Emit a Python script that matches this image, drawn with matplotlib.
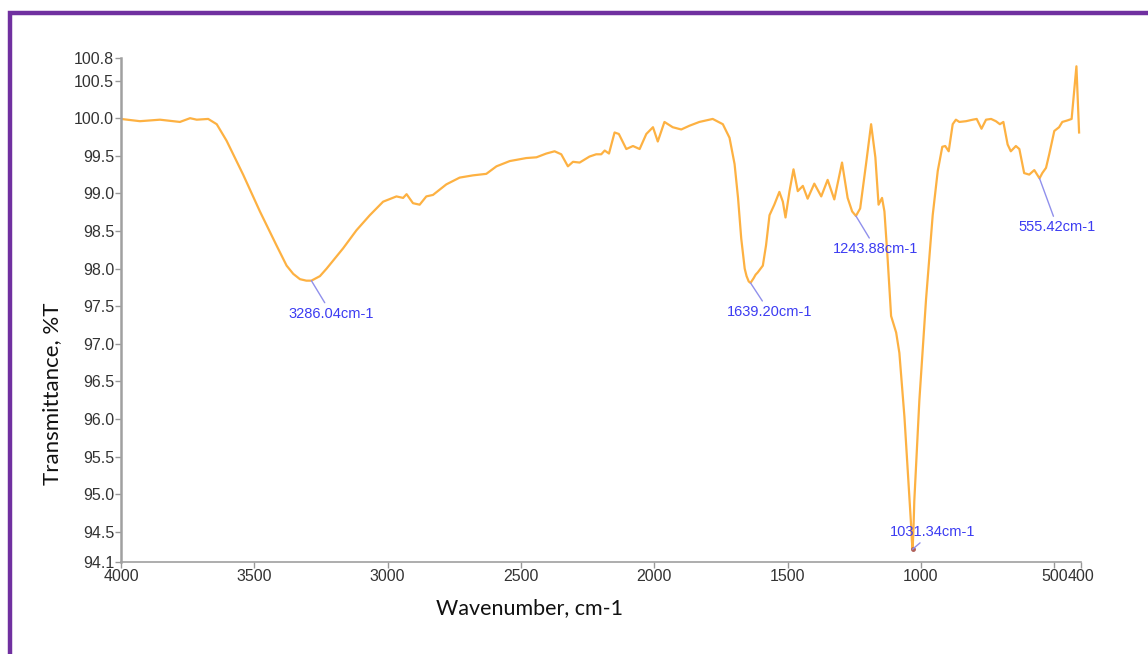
import matplotlib
matplotlib.use("Agg")
import matplotlib.pyplot as plt
from matplotlib.lines import Line2D

# FTIR spectrum (wavenumber in cm-1, transmittance in %T)
wavenumber = [
    4000, 3929, 3854, 3779, 3741, 3716, 3673, 3641, 3604, 3542,
    3479, 3417, 3379, 3354, 3329, 3305, 3286.04, 3254, 3229, 3167,
    3117, 3067, 3017, 2967, 2942, 2929, 2905, 2880, 2855, 2830,
    2780, 2730, 2680, 2630, 2592, 2542, 2480, 2442, 2405, 2374,
    2349, 2324, 2305, 2280, 2243, 2218, 2199, 2186, 2170, 2149,
    2133, 2105, 2080, 2055, 2030, 2005, 1987, 1962, 1931, 1899,
    1868, 1831, 1781, 1743, 1718, 1699, 1686, 1674, 1661, 1654,
    1646, 1639.20, 1628, 1620, 1612, 1593, 1581, 1568, 1550, 1531,
    1518, 1508, 1493, 1478, 1462, 1443, 1425, 1400, 1374, 1350,
    1325, 1296, 1275, 1258, 1243.88, 1228, 1206, 1187, 1171, 1159,
    1146, 1137, 1125, 1112, 1093, 1081, 1062, 1050, 1037, 1034,
    1031.34, 1028, 1025, 1006, 981, 956, 937, 920, 909, 896,
    881, 869, 856, 831, 806, 791, 773, 756, 737, 719,
    704, 691, 675, 663, 644, 631, 613, 594, 575, 555.42,
    545, 531, 519, 500, 482, 470, 451, 435, 417, 407,
]
transmittance = [
    99.99, 99.96, 99.98, 99.95, 100.00, 99.98, 99.99, 99.92, 99.70, 99.25,
    98.76, 98.31, 98.04, 97.93, 97.86, 97.84, 97.84, 97.90, 98.00, 98.27,
    98.51, 98.71, 98.89, 98.96, 98.94, 98.99, 98.87, 98.85, 98.96, 98.98,
    99.12, 99.21, 99.24, 99.26, 99.36, 99.43, 99.47, 99.48, 99.53, 99.56,
    99.52, 99.36, 99.42, 99.41, 99.49, 99.52, 99.52, 99.57, 99.53, 99.81,
    99.79, 99.59, 99.63, 99.59, 99.79, 99.88, 99.69, 99.95, 99.88, 99.85,
    99.90, 99.95, 99.99, 99.92, 99.74, 99.39, 98.94, 98.40, 98.00, 97.90,
    97.83, 97.81, 97.87, 97.92, 97.95, 98.04, 98.31, 98.71, 98.85, 99.02,
    98.89, 98.68, 99.03, 99.32, 99.03, 99.10, 98.93, 99.13, 98.96, 99.18,
    98.92, 99.41, 98.94, 98.76, 98.70, 98.80, 99.39, 99.92, 99.48, 98.85,
    98.94, 98.76, 98.13, 97.37, 97.15, 96.88, 96.03, 95.35, 94.59, 94.38,
    94.27, 94.55, 94.91, 96.25, 97.59, 98.71, 99.30, 99.62, 99.63, 99.56,
    99.92, 99.98, 99.95, 99.96, 99.98, 99.99, 99.86, 99.98, 99.99, 99.96,
    99.92, 99.95, 99.65, 99.56, 99.63, 99.59, 99.27, 99.25, 99.31, 99.20,
    99.27, 99.34, 99.52, 99.83, 99.88, 99.95, 99.97, 99.99, 100.69, 99.81,
]

# labelled band positions and label offsets (pixels)
peaks = [3286.04, 1639.20, 1243.88, 1031.34, 555.42]
peak_offsets = [(20, -33), (19, -29), (20, -33), (20, 17), (18, -49)]

x_ticks = [4000, 3500, 3000, 2500, 2000, 1500, 1000, 500, 400]
y_ticks = [94.1, 94.5, 95.0, 95.5, 96.0, 96.5, 97.0, 97.5, 98.0,
           98.5, 99.0, 99.5, 100.0, 100.5, 100.8]

fig = plt.figure(figsize=(11.48, 6.54), dpi=100)
ax = fig.add_axes([0.1054, 0.1407, 0.8362, 0.7706])

ax.plot(wavenumber, transmittance, color="#FDB142", linewidth=1.6,
        solid_joinstyle="round")

for wn, off in zip(peaks, peak_offsets):
    t = transmittance[wavenumber.index(wn)]
    ax.annotate(f"{wn:.2f}cm-1", xy=(wn, t), xytext=off,
                textcoords="offset pixels", ha="center", va="center",
                fontsize=10.5, color="#3c3cf2", family="Liberation Sans",
                arrowprops=dict(arrowstyle="-", color="#9090ec", lw=1,
                                shrinkA=1, shrinkB=0))

# small marker at the strongest band
i_min = transmittance.index(min(transmittance))
ax.plot(wavenumber[i_min], transmittance[i_min], "o", ms=2.5, color="#b0605a")

ax.set_xlim(4000, 400)
ax.set_ylim(94.1, 100.8)
ax.set_xticks(x_ticks)
ax.set_xticklabels([str(v) for v in x_ticks])
ax.set_yticks(y_ticks)
ax.set_yticklabels([f"{v:.1f}" for v in y_ticks])

for lab in ax.get_xticklabels() + ax.get_yticklabels():
    lab.set_family("Liberation Sans")
    lab.set_fontsize(11.5)
    lab.set_color("#333333")

ax.tick_params(direction="out", length=4, width=1, color="#999999", pad=1)
for side in ("top", "right"):
    ax.spines[side].set_visible(False)
ax.spines["left"].set_color("#a0a0a0")
ax.spines["left"].set_linewidth(1.8)
ax.spines["bottom"].set_color("#a0a0a0")
ax.spines["bottom"].set_linewidth(1.2)

ax.set_xlabel("Wavenumber, cm-1", fontsize=15.5, family="Lato", color="#111111")
ax.set_ylabel("Transmittance, %T", fontsize=16, family="Lato", color="#111111")
ax.xaxis.set_label_coords(0.426, -0.071)
ax.yaxis.set_label_coords(-0.0615, 0.333)

# purple frame on the left and top edges
fig.add_artist(Line2D([0.0087, 0.0087, 1.0], [0.0, 0.980, 0.980],
                      transform=fig.transFigure, color="#7030A0", lw=3.2,
                      solid_joinstyle="miter"))

fig.savefig("out.png", dpi=100)
